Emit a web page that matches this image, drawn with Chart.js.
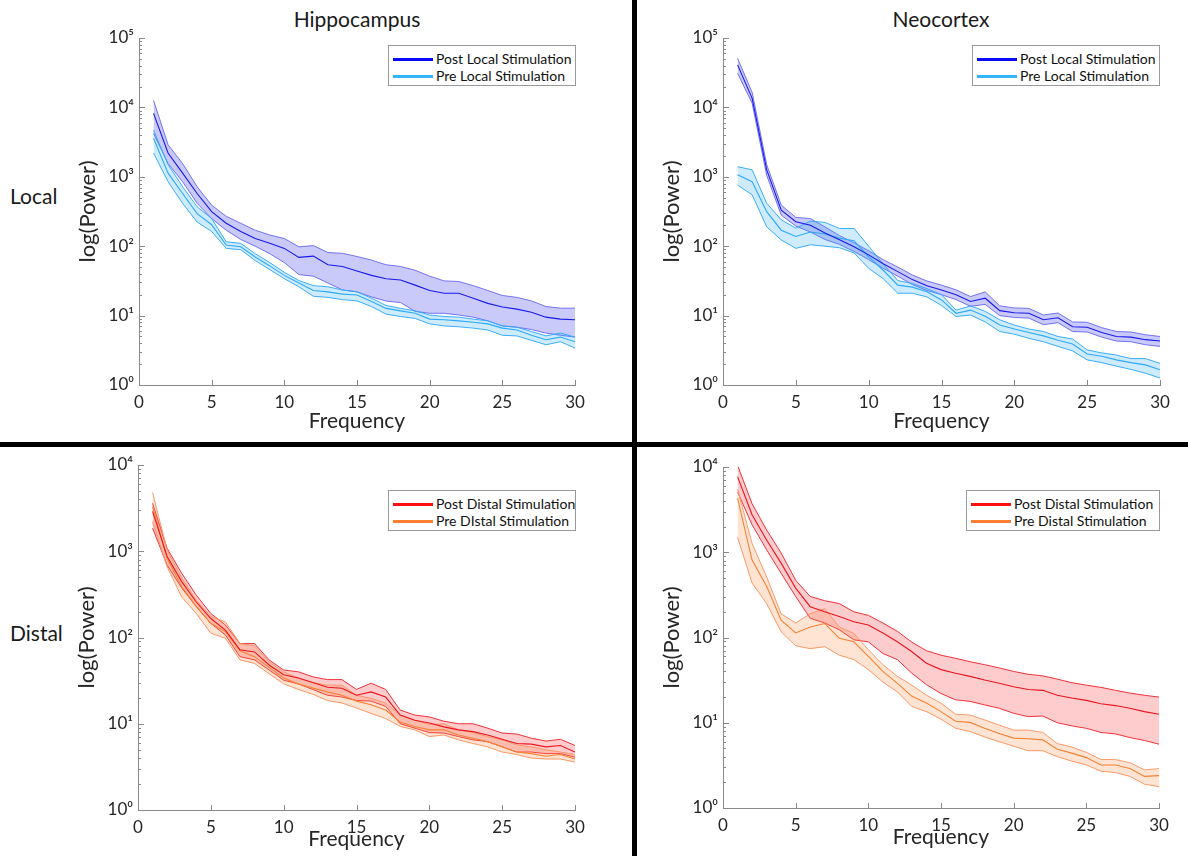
<!DOCTYPE html>
<html>
<head>
<meta charset="utf-8">
<script src="https://cdn.jsdelivr.net/npm/chart.js@4"></script>
<style>
  html, body { margin: 0; padding: 0; background: #fff; overflow: hidden; }
  body { width: 1188px; height: 856px; position: relative; font-family: Lato, "Open Sans", sans-serif; color: #1a1a1a; }
  canvas { position: absolute; }
  .label { position: absolute; font-size: 21px; white-space: nowrap; }
  .bar { position: absolute; background: #000; z-index: 5; }
  .legend { position: absolute; background: #fff; border: 1px solid #9a9a9a; z-index: 4; box-sizing: border-box; padding-top: 4px; }
  .legend .row { height: 17px; line-height: 17px; font-size: 14px; white-space: nowrap; color: #111; }
  .legend .sw { display: inline-block; width: 40px; height: 3px; vertical-align: middle; margin: 0 3px 2px 4px; }
</style>
</head>
<body>

<div class="label" style="left:357px;top:18px;transform:translate(-50%,-50%)">Hippocampus</div>
<div class="label" style="left:941px;top:18px;transform:translate(-50%,-50%)">Neocortex</div>
<div class="label" style="left:10px;top:195px;transform:translateY(-50%)">Local</div>
<div class="label" style="left:10px;top:632px;transform:translateY(-50%)">Distal</div>

<div class="bar" style="left:632px;top:0;width:5px;height:856px"></div>
<div class="bar" style="left:0;top:442px;width:1188px;height:5px"></div>

<canvas id="c1"></canvas>
<canvas id="c2"></canvas>
<canvas id="c3"></canvas>
<canvas id="c4"></canvas>

<div class="legend" style="left:388px;top:45px;width:188px;height:41px">
  <div class="row"><span class="sw" style="background:#0a0aff"></span>Post Local Stimulation</div>
  <div class="row"><span class="sw" style="background:#35b4ff"></span>Pre Local Stimulation</div>
</div>
<div class="legend" style="left:972px;top:45px;width:188px;height:41px">
  <div class="row"><span class="sw" style="background:#0a0aff"></span>Post Local Stimulation</div>
  <div class="row"><span class="sw" style="background:#35b4ff"></span>Pre Local Stimulation</div>
</div>
<div class="legend" style="left:388px;top:490px;width:188px;height:41px">
  <div class="row"><span class="sw" style="background:#ff1010"></span>Post Distal Stimulation</div>
  <div class="row"><span class="sw" style="background:#ff8030"></span>Pre DIstal Stimulation</div>
</div>
<div class="legend" style="left:966px;top:490px;width:194px;height:41px">
  <div class="row"><span class="sw" style="background:#ff1010"></span>Post Distal Stimulation</div>
  <div class="row"><span class="sw" style="background:#ff8030"></span>Pre Distal Stimulation</div>
</div>

<script>
// Frequency bins (Hz)
const freqs = [1,2,3,4,5,6,7,8,9,10,11,12,13,14,15,16,17,18,19,20,21,22,23,24,25,26,27,28,29,30];

// Hippocampus, local stimulation
const hipLocalPostMean  = [8200,2200,1130,575,315,214,163,129,110,93,69,72,54,51,44,38,34,32.5,27.5,23,21,21,17.8,15,13.3,12.4,11.2,9.5,8.9,8.7];
const hipLocalPostUpper = [12600,2900,1550,720,390,270,214,170,145,129,98,102,81,79,71,63,54,51,45,37,31.6,31,27,23,19.5,18.3,16.3,13.5,12.8,12.8];
const hipLocalPostLower = [4200,1550,850,415,250,170,125,100,78,58,39,37,29.5,23.4,22,18.6,16.2,15.4,11.5,10.8,10.8,10.2,9.5,8.4,7.1,6.8,6.3,5.6,5.2,4.9];
const hipLocalPreMean   = [3600,1130,575,295,204,104,98,70,52,38,29.5,23,22,20.4,19.8,15.9,12.7,11.7,10.8,8.9,8.7,8.4,8.0,7.6,6.6,6.2,5.2,4.5,4.9,4.2];
const hipLocalPreUpper  = [4700,1500,720,370,250,116,110,78,58,42,32,27,26,23.4,22,17.8,14,12.7,11.7,10.2,9.7,9.5,8.9,8.4,7.1,6.8,5.9,5.1,5.6,4.9];
const hipLocalPreLower  = [2200,850,415,223,163,93,89,62,46,34,26,19,18.3,17,16.3,13.5,10.5,9.7,9.1,7.6,7.1,6.9,6.6,6.2,5.2,5.1,4.4,3.8,4.2,3.4];

// Neocortex, local stimulation
const neoLocalPostMean  = [41000,13500,1260,330,225,200,155,124,98,75,56,43,33,27,23.4,20,16,17.8,11.8,11,10.8,8.7,9.3,6.9,6.8,5.7,5.0,4.9,4.5,4.3];
const neoLocalPostUpper = [51000,16500,1500,390,260,250,190,142,112,86,64,50,38.5,31.5,27.5,23.5,18.8,22,13.8,12.9,12.7,10.2,10.9,8.1,8,6.7,5.9,5.8,5.3,5.0];
const neoLocalPostLower = [31000,11500,1050,280,195,160,125,106,84,64,48,37,28,23,20,17,13.6,14.5,10,9.4,9.2,7.4,7.9,5.9,5.8,4.9,4.3,4.2,3.8,3.6];
const neoLocalPreMean   = [1070,850,315,170,138,160,150,130,120,70,45,27.5,25.7,22,16.8,10.8,12,9.8,7.3,6.4,5.7,5.1,4.4,3.9,2.8,2.6,2.3,2.1,1.95,1.66];
const neoLocalPreUpper  = [1400,1260,415,240,182,230,220,180,180,100,55,32,29,24.5,20,12,13.8,11.5,8.7,7.3,6.4,5.9,5.0,4.6,3.2,2.9,2.7,2.4,2.4,2.05];
const neoLocalPreLower  = [760,550,190,123,93,105,100,95,80,48,34,21,21,18.6,14,9.7,10.2,8.1,5.9,5.4,4.7,4.2,3.6,3.1,2.3,2.1,1.87,1.68,1.48,1.26];

// Hippocampus, distal stimulation
const hipDistalPostMean  = [2900,870,445,258,166,122,72,68,48,37,34,30,26.5,25.8,21.4,23.4,20.4,12.6,11,10.2,9.2,8.5,8.1,7.4,6.6,5.9,5.8,5.4,5.6,4.7];
const hipDistalPostUpper = [3600,1080,555,310,190,140,85,85,55,42,40,35,32.5,32.5,25,29.5,25,14.4,12.6,12,10.7,10,10,8.9,7.8,7.6,6.8,6.3,6.6,5.6];
const hipDistalPostLower = [1850,690,375,228,146,107,60,55,42,32,29,25,21.4,20.4,18.6,18.3,15.9,10,8.9,7.9,7.8,7.1,6.5,6.2,5.4,4.7,4.7,4.5,4.5,4.1];
const hipDistalPreMean   = [3300,830,390,228,146,117,70,60,45,34,29,26,23.4,21.4,18.3,16.6,14.4,10.4,9.3,8.5,8.5,7.4,6.8,6.2,5.4,4.7,4.5,4.2,4.4,3.9];
const hipDistalPreUpper  = [4800,1030,490,270,175,152,85,80,52,40,34,30,28,28,21.4,19.7,17.4,12.6,11,9.8,10,8.5,7.9,7.1,6.5,5.7,5.4,5.0,4.7,4.4];
const hipDistalPreLower  = [2200,660,295,190,112,98,55,50,38,29,25,22,18.6,17.4,15.2,13.2,11.5,9.3,8.5,7.1,7.4,6.5,5.9,5.4,4.7,4.4,4.0,3.9,3.9,3.6];

// Neocortex, distal stimulation
const neoDistalPostMean  = [7700,2750,1390,745,380,230,200,176,153,140,113,89,68,50,42,38,35,31.7,29,26.5,24.5,24,21,19.5,18.3,16.7,15.9,14.8,13.5,12.6];
const neoDistalPostUpper = [10500,3700,1830,980,470,303,270,250,200,182,148,118,88,70,62,57,52,48,44,40,37,35.5,32.5,29.5,27.6,26,24,22.3,21,20];
const neoDistalPostLower = [5100,2100,1070,565,303,168,148,123,94,89,65,55,38,28,22,18.6,17.8,16.2,14.8,12.9,11.8,12,10,9.2,8.6,7.7,7.4,6.7,6.2,5.6];
const neoDistalPreMean   = [4300,810,400,160,113,133,146,98,89,60,40,29,20.4,17,13.5,10.4,10.1,8.6,7.5,6.6,6.5,6.3,4.9,4.4,3.9,3.2,3.2,2.9,2.35,2.4];
const neoDistalPreUpper  = [5500,1270,515,190,148,190,218,133,112,72,48,35,27.6,21,17,12.6,12.3,10.8,9.4,8.2,8.2,7.7,5.7,5.2,4.5,3.7,3.7,3.4,2.8,2.9];
const neoDistalPreLower  = [1500,435,250,117,80,74,78,62,55,42,30,23,15.5,13.5,11,8.6,7.9,6.8,6.0,5.3,4.7,4.7,4.0,3.55,3.2,2.7,2.6,2.35,1.9,1.78];

// Axis tick labels
const xTickValues = [0,5,10,15,20,25,30];
const superscripts = ['\u2070','\u00B9','\u00B2','\u00B3','\u2074','\u2075'];

const AXIS_COLOR = '#8a8a8a';
const TEXT_COLOR = '#262626';
Chart.defaults.font.family = 'Lato, "Open Sans", sans-serif';
Chart.defaults.color = TEXT_COLOR;

const palettes = {
  postLocal:  { line: 'rgb(25,25,235)',  edge: 'rgba(110,110,240,0.95)', fill: 'rgba(100,100,240,0.35)' },
  preLocal:   { line: 'rgb(45,170,250)', edge: 'rgba(50,170,250,0.95)',  fill: 'rgba(51,170,255,0.24)' },
  postDistal: { line: 'rgb(235,20,30)',  edge: 'rgba(240,40,50,0.95)',   fill: 'rgba(255,40,50,0.24)' },
  preDistal:  { line: 'rgb(245,130,50)', edge: 'rgba(250,150,100,0.95)', fill: 'rgba(255,130,60,0.22)' }
};

const pts = arr => arr.map((v, i) => ({ x: freqs[i], y: v }));

// One shaded band: upper edge (filled down to lower edge), lower edge, mean line
function band(upper, mean, lower, pal, edgeOrder) {
  return [
    { data: pts(upper), borderColor: pal.edge, borderWidth: 1, backgroundColor: pal.fill, fill: '+1', order: edgeOrder },
    { data: pts(lower), borderColor: pal.edge, borderWidth: 1, fill: false, order: edgeOrder },
    { data: pts(mean),  borderColor: pal.line, borderWidth: 1.1, fill: false, order: 0 }
  ];
}

// Inward-pointing tick marks, minor ticks on the log axis
const inwardTicks = {
  id: 'inwardTicks',
  afterDraw(chart) {
    const { ctx, scales: { x, y }, chartArea: a } = chart;
    ctx.save();
    ctx.strokeStyle = AXIS_COLOR;
    ctx.lineWidth = 1;
    ctx.beginPath();
    const lo = Math.round(Math.log10(y.min)), hi = Math.round(Math.log10(y.max));
    for (let e = lo; e <= hi; e++) {
      for (let m = 1; m <= 9; m++) {
        const v = m * Math.pow(10, e);
        if (v > y.max * 1.0001) break;
        const py = Math.round(y.getPixelForValue(v)) + 0.5;
        const len = m === 1 ? 6 : 3;
        ctx.moveTo(a.left, py);
        ctx.lineTo(a.left + len, py);
      }
    }
    xTickValues.forEach(t => {
      const px = Math.round(x.getPixelForValue(t)) + 0.5;
      ctx.moveTo(px, a.bottom);
      ctx.lineTo(px, a.bottom - 5);
    });
    ctx.stroke();
    ctx.restore();
  }
};

function makePanel(id, area, yMax, groups, xTitlePad) {
  const yAxisW = 100, padTop = 20, padRight = 20, xAxisH = 58;
  const cv = document.getElementById(id);
  const left = area.left - yAxisW, top = area.top - padTop;
  const w = area.right - left + padRight, h = area.bottom - top + xAxisH;
  cv.style.left = left + 'px';
  cv.style.top = top + 'px';
  cv.width = w; cv.height = h;
  cv.style.width = w + 'px'; cv.style.height = h + 'px';

  new Chart(cv, {
    type: 'line',
    data: { datasets: groups },
    options: {
      responsive: false,
      animation: false,
      devicePixelRatio: 1,
      layout: { padding: { top: padTop, right: padRight, left: 0, bottom: 0 } },
      elements: { point: { radius: 0 }, line: { tension: 0 } },
      plugins: { legend: { display: false }, tooltip: { enabled: false } },
      scales: {
        x: {
          type: 'linear', min: 0, max: 30,
          afterBuildTicks: s => { s.ticks = xTickValues.map(v => ({ value: v })); },
          afterFit: s => { s.height = xAxisH; },
          grid: { display: false, drawTicks: false },
          border: { display: true, color: AXIS_COLOR, width: 1 },
          ticks: { font: { size: 17 }, padding: 7, color: TEXT_COLOR, maxRotation: 0 },
          title: { display: true, text: 'Frequency', font: { size: 21 }, color: TEXT_COLOR, padding: { top: 0, bottom: xTitlePad } }
        },
        y: {
          type: 'logarithmic', min: 1, max: yMax,
          afterBuildTicks: s => {
            const t = [];
            for (let v = 1; v <= yMax; v *= 10) t.push({ value: v });
            s.ticks = t;
          },
          afterFit: s => { s.width = yAxisW; },
          grid: { display: false, drawTicks: false },
          border: { display: true, color: AXIS_COLOR, width: 1 },
          ticks: {
            font: { size: 17 }, padding: 5, color: TEXT_COLOR,
            callback: v => '10' + superscripts[Math.round(Math.log10(v))]
          },
          title: { display: true, text: 'log(Power)', font: { size: 22 }, color: TEXT_COLOR, padding: { top: 36, bottom: 0 } }
        }
      }
    },
    plugins: [inwardTicks]
  });
}

makePanel('c1', { left: 139, right: 575, top: 38, bottom: 385 }, 1e5, [
  ...band(hipLocalPostUpper, hipLocalPostMean, hipLocalPostLower, palettes.postLocal, 2),
  ...band(hipLocalPreUpper, hipLocalPreMean, hipLocalPreLower, palettes.preLocal, 1)
], 9);

makePanel('c2', { left: 723, right: 1160, top: 38, bottom: 385 }, 1e5, [
  ...band(neoLocalPostUpper, neoLocalPostMean, neoLocalPostLower, palettes.postLocal, 2),
  ...band(neoLocalPreUpper, neoLocalPreMean, neoLocalPreLower, palettes.preLocal, 1)
], 9);

makePanel('c3', { left: 138, right: 575, top: 465, bottom: 810 }, 1e4, [
  ...band(hipDistalPostUpper, hipDistalPostMean, hipDistalPostLower, palettes.postDistal, 2),
  ...band(hipDistalPreUpper, hipDistalPreMean, hipDistalPreLower, palettes.preDistal, 1)
], 16);

makePanel('c4', { left: 723, right: 1159, top: 467, bottom: 808 }, 1e4, [
  ...band(neoDistalPostUpper, neoDistalPostMean, neoDistalPostLower, palettes.postDistal, 2),
  ...band(neoDistalPreUpper, neoDistalPreMean, neoDistalPreLower, palettes.preDistal, 1)
], 16);
</script>
</body>
</html>
